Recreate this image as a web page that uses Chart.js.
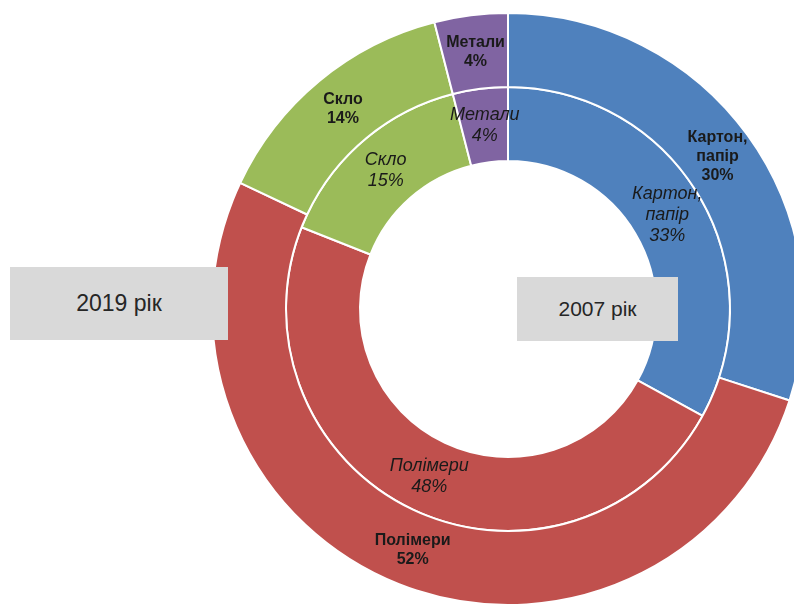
<!DOCTYPE html>
<html>
<head>
<meta charset="utf-8">
<script src="https://cdn.jsdelivr.net/npm/chart.js@4"></script>
<style>
  html, body { margin: 0; padding: 0; background: #fff; overflow: hidden; }
  #wrap { position: relative; width: 1016px; height: 607px; }
  .year-box {
    position: absolute; background: #d9d9d9; color: #262626;
    font-family: "Liberation Sans", Arial, sans-serif;
    display: flex; align-items: center; justify-content: center;
  }
</style>
</head>
<body>
<div id="wrap">
  <canvas id="ch_pack"></canvas>
  <div class="year-box" style="left:10px;top:267px;width:218px;height:73px;font-size:23px;">2019 рік</div>
  <div class="year-box" style="left:517px;top:277px;width:161px;height:64px;font-size:21px;">2007 рік</div>
</div>
<script>
// categories (clockwise from 12 o'clock)
const categories = ['Картон, папір', 'Полімери', 'Скло', 'Метали'];
// label lines per category
const labelLines = [['Картон,', 'папір'], ['Полімери'], ['Скло'], ['Метали']];
// outer ring = 2019, inner ring = 2007 (shares, %)
const share2019 = [30, 52, 14, 4];
const share2007 = [33, 48, 15, 4];
const colors = ['#4f81bd', '#c0504d', '#9bbb59', '#8064a2'];

// draws "name / NN%" at the centroid of every arc
const ringLabels = {
  id: 'ringLabels',
  afterDatasetsDraw(chart) {
    const ctx = chart.ctx;
    chart.data.datasets.forEach((ds, di) => {
      const meta = chart.getDatasetMeta(di);
      const bold = di === 0;
      const size = bold ? 16 : 18;
      const lh = bold ? 19 : 21;
      ctx.save();
      ctx.font = (bold ? 'bold ' : 'italic ') + size + 'px "Liberation Sans", Arial, sans-serif';
      ctx.fillStyle = '#1a1a1a';
      ctx.textAlign = 'center';
      ctx.textBaseline = 'middle';
      meta.data.forEach((arc, i) => {
        const p = arc.tooltipPosition();
        const lines = labelLines[i].concat([ds.data[i] + '%']);
        const y0 = p.y - (lines.length - 1) * lh / 2;
        lines.forEach((t, k) => ctx.fillText(t, p.x, y0 + k * lh));
      });
      ctx.restore();
    });
  }
};

new Chart(document.getElementById('ch_pack').getContext('2d'), {
  type: 'doughnut',
  data: {
    labels: categories,
    datasets: [
      { label: '2019 рік', data: share2019, backgroundColor: colors, borderColor: '#fff', borderWidth: 2 },
      { label: '2007 рік', data: share2007, backgroundColor: colors, borderColor: '#fff', borderWidth: 2 }
    ]
  },
  options: {
    responsive: true,
    maintainAspectRatio: false,
    animation: false,
    cutout: '50%',
    layout: { padding: { top: 12, bottom: 1, left: 0, right: 0 } },
    plugins: {
      legend: { display: false },
      tooltip: { enabled: false }
    }
  },
  plugins: [ringLabels]
});
</script>
</body>
</html>
